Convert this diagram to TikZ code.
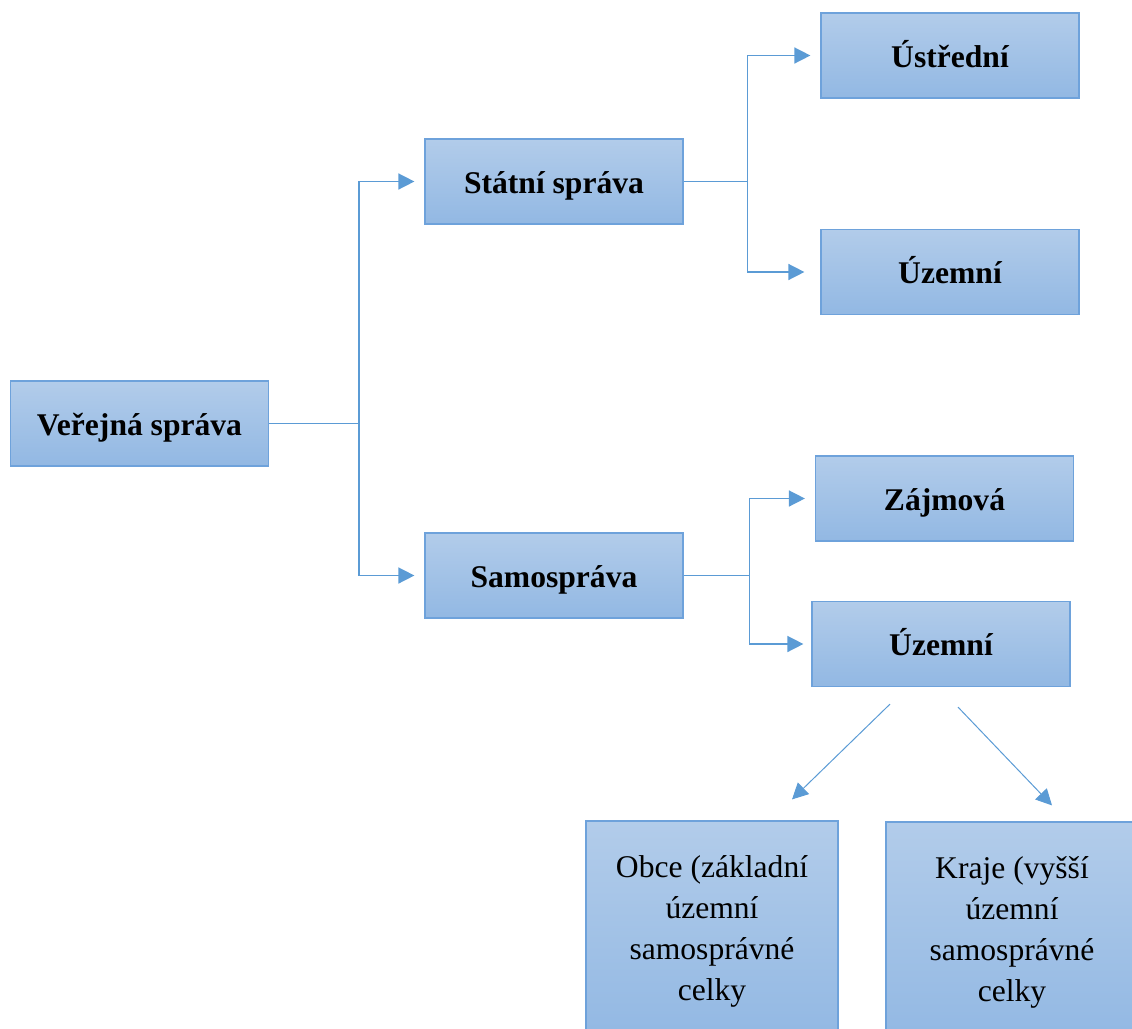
\documentclass[tikz,border=0pt]{standalone}
\usepackage{fontspec}
\setmainfont{Liberation Serif}
\usepackage{xcolor}
\usepackage{tikz}
\usetikzlibrary{arrows.meta,positioning,calc}
\definecolor{vsblue}{RGB}{91,155,213}
\definecolor{vsedge}{RGB}{110,162,219}
\definecolor{vstop}{RGB}{178,204,234}
\definecolor{vsbot}{RGB}{146,184,227}

\begin{document}
\begin{tikzpicture}[
  x=1pt, y=-1pt,
  box/.style={draw=vsedge, line width=1.2pt, shading=axis,
              top color=vstop, bottom color=vsbot,
              minimum width=258pt, minimum height=85pt, inner sep=0pt,
              text height=23pt, text depth=0pt,
              align=center, font=\fontsize{31.6}{41}\selectfont\bfseries},
  leaf/.style={draw=vsedge, line width=1.2pt, shading=axis,
               top color=vstop, bottom color=vsbot,
               minimum width=252pt, minimum height=220pt, inner sep=0pt,
               align=center, font=\fontsize{31.6}{41}\selectfont},
  link/.style={draw=vsblue, line width=1.5pt},
  arr/.style={link, -{Triangle[length=16pt, width=16pt]}, shorten >=10pt}
]

\clip (0,0) rectangle (1132,1028);

% ---- Boxes ----
\node[box] (ver)  at (139.5, 423.5) {Veřejná správa};
\node[box] (stat) at (554, 181.5)   {Státní správa};
\node[box] (sam)  at (554, 575.5)   {Samospráva};
\node[box] (ustr) at (950, 55.5)    {Ústřední};
\node[box] (uzt)  at (950, 272)     {Územní};
\node[box] (zaj)  at (944.5, 498.5) {Zájmová};
\node[box] (uzs)  at (941, 644)     {Územní};
\node[leaf] (obce)  at (712, 931)  {Obce (základní\\územní\\samosprávné\\celky};
\node[leaf] (kraje) at (1012, 932) {Kraje (vyšší\\územní\\samosprávné\\celky};

% ---- Junctions ----
\coordinate (j1) at ($(ver.east)+(90,0)$);
\coordinate (j2) at ($(stat.east)+(64,0)$);
\coordinate (j3) at ($(sam.east)+(66,0)$);

% ---- Connectors ----
\draw[link] (ver.east) -- (j1);
\draw[arr] (j1) |- (stat.west);
\draw[arr] (j1) |- (sam.west);

\draw[link] (stat.east) -- (j2);
\draw[arr] (j2) |- (ustr.west);
\draw[arr, shorten >=16pt] (j2) |- (uzt.west);

\draw[link] (sam.east) -- (j3);
\draw[arr] (j3) |- (zaj.west);
\draw[arr, shorten >=8pt] (j3) |- (uzs.west);

% ----- Územní split -----
\draw[arr, line width=1pt, shorten >=0pt]
  ($(uzs.south)+(-51,17)$) -- ($(obce.north)+(80,-21)$);
\draw[arr, line width=1pt, shorten >=0pt]
  ($(uzs.south)+(17,20)$) -- ($(kraje.north)+(40,-16)$);

\end{tikzpicture}
\end{document}
